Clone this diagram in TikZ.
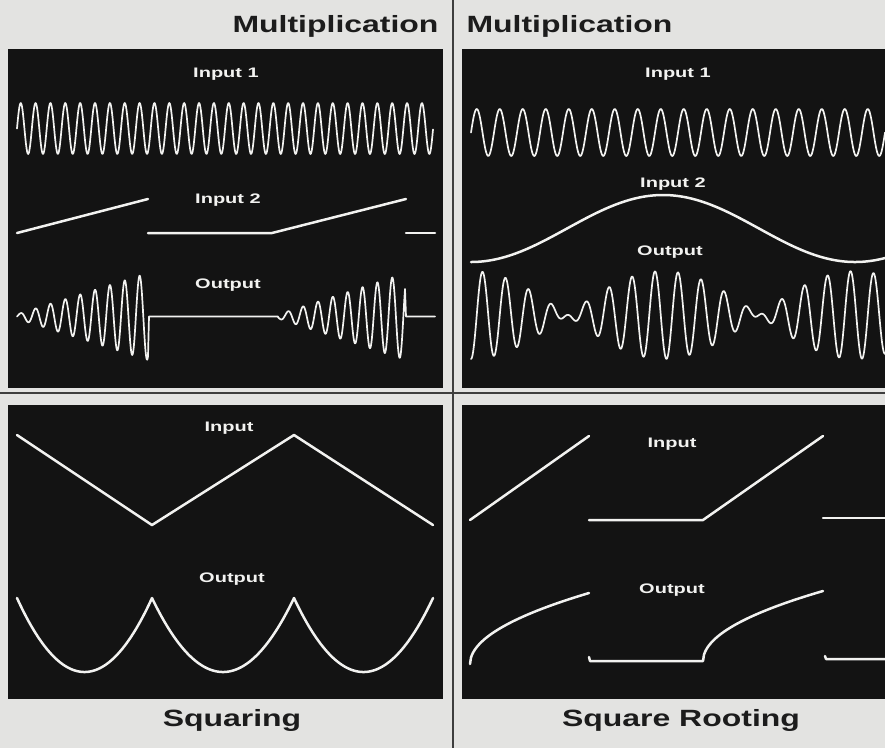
\documentclass[tikz,border=0pt]{standalone}
\usepackage{fontspec}
\usepackage{tikz}
\setsansfont{Liberation Sans}
\newfontfamily\scopehead{Liberation Sans}[FakeStretch=1.36]
\newfontfamily\scopetag{Liberation Sans}[FakeStretch=1.45]
\definecolor{scPaper}{HTML}{E3E3E1}
\definecolor{scScreen}{HTML}{131313}
\definecolor{scTrace}{HTML}{F2F2F0}
\definecolor{scInk}{HTML}{1C1C1C}

\begin{document}
\begin{tikzpicture}[x=1pt,y=-1pt,
  screen/.style={fill=scScreen},
  trace/.style={draw=scTrace, line width=2.5pt, line join=round, line cap=round},
  fine/.style={trace, line width=1.7pt},
  tag/.style={anchor=base, text=scTrace, font=\scopetag\bfseries\fontsize{13.8}{16}\selectfont},
  head/.style={anchor=base, text=scInk, font=\scopehead\bfseries\fontsize{23.5}{28}\selectfont}]
  \useasboundingbox (0,0) rectangle (885,748);
  \fill[scPaper] (0,0) rectangle (885,748);
  % four scope screens
  \foreach \px/\py/\qx/\qy in {8/49/443/388, 462/49/885/388, 8/405/443/699, 462/405/885/699}
    \fill[screen] (\px,\py) rectangle (\qx,\qy);
  \draw[scInk!85, line width=1.5pt] (453,0) -- (453,748);
  \draw[scInk!85, line width=2pt] (0,393) -- (885,393);

  % titles
  \node[head, anchor=base east] (multl) at (442,32) {Multiplication};
  \node[head, anchor=base west] (multr) at (463,32) {Multiplication};
  \node[head] (squaring) at (232,726) {Squaring};
  \node[head] (rooting) at (681,726) {Square Rooting};

  % multiplication, ramp
  \node[tag] (tlin1) at (226,77) {Input 1};
  \node[tag] (tlin2) at (228,203) {Input 2};
  \node[tag] (tlout) at (228,288) {Output};
  \draw[fine] plot[domain=17:433, samples=700] (\x,{128.5-25.5*sin((\x-17)*24.226)});
  \draw[trace] (17,233) -- (148,199);
  \draw[trace] (148,233) -- (272,233) -- (406,199);
  \draw[trace] (406,233) -- (435,233);
  \draw[fine] plot[domain=17:148, samples=300] (\x,{316.5-0.3152*(\x-10)*sin((\x-17)*24.226)})
    -- (149,316.5) -- (278,316.5)
    -- plot[domain=278:405, samples=300] (\x,{316.5-0.3246*(\x-272)*sin((\x-17)*24.226)})
    -- (406,316.5) -- (435,316.5);

  % multiplication, cosine
  \node[tag] (trin1) at (678,77) {Input 1};
  \node[tag] (trin2) at (673,187) {Input 2};
  \node[tag] (trout) at (670,255) {Output};
  \begin{scope}
    \clip (462,49) rectangle (885,388);
    \draw[fine] plot[domain=471:885, samples=600] (\x,{132.5-23.5*sin((\x-471)*15.652)});
    \draw[trace] plot[domain=471:885, samples=200] (\x,{262-33.5*(1-cos((\x-471)*0.9375))});
    \draw[fine] plot[domain=471:885, samples=700] (\x,{315+44*cos((\x-471)*0.9375)*cos((\x-471)*15.652)});
  \end{scope}

  % squaring
  \node[tag] (blin) at (229,431) {Input};
  \node[tag] (blout) at (232,582) {Output};
  \draw[trace] (17,435) -- (152,525) -- (294,435) -- (433,525);
  \draw[trace] plot[domain=17:152, samples=80] (\x,{672-74*(1-2*(\x-17)/135)^2})
    -- plot[domain=152:294, samples=80] (\x,{672-74*(-1+2*(\x-152)/142)^2})
    -- plot[domain=294:433, samples=80] (\x,{672-74*(1-2*(\x-294)/139)^2});

  % square rooting
  \node[tag] (brin) at (672,447) {Input};
  \node[tag] (brout) at (672,593) {Output};
  \draw[trace] (470,520) -- (589,436);
  \draw[trace] (589,520) -- (703,520) -- (823,436);
  \draw[trace] (823,518) -- (885,518);
  \draw[trace] plot[domain=470:589, samples=120] (\x,{664-71*sqrt((\x-470)/119)});
  \draw[trace] (589,657) -- (590,661) -- (703,661)
    -- plot[domain=703:823, samples=120] (\x,{661-70*sqrt((\x-703)/120)});
  \draw[trace] (825,656) -- (826,659) -- (885,659);
\end{tikzpicture}
\end{document}
